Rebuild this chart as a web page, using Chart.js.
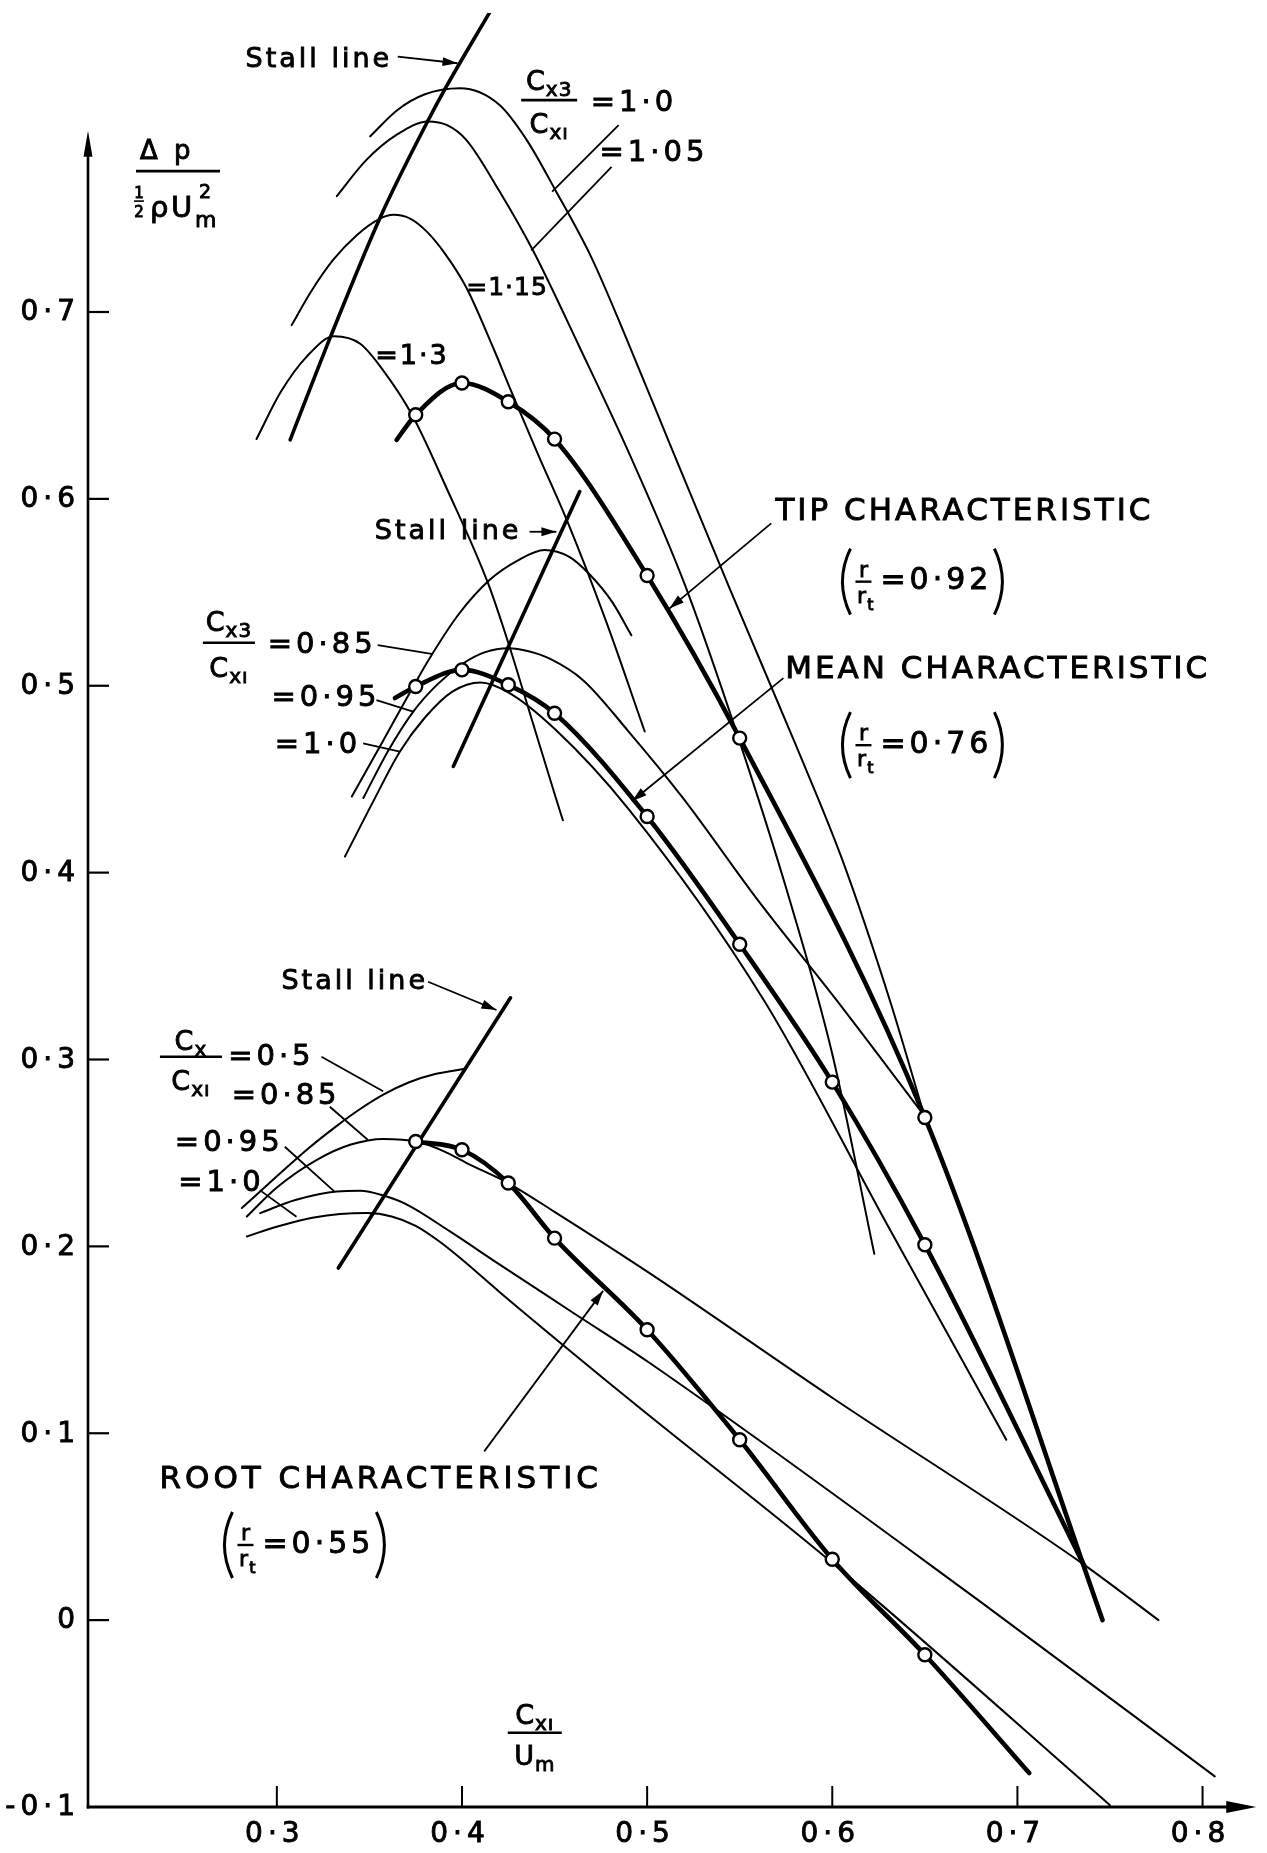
<!DOCTYPE html>
<html>
<head>
<meta charset="utf-8">
<title>Stage characteristics – tip, mean and root sections</title>
<script src="https://cdn.jsdelivr.net/npm/chart.js@4.4.1/dist/chart.umd.min.js"></script>
<style>
  html, body { margin: 0; padding: 0; background: #fff; }
  #box { width: 1267px; height: 1853px; }
  canvas { display: block; }
</style>
</head>
<body>
<div id="box"><canvas id="chart" width="1267" height="1853"></canvas></div>
<script>
// ---------- axes ----------
const xMin = 0.198, xMax = 0.83;
const yMin = -0.1, yMax = 0.86;
const xTicks = [0.3, 0.4, 0.5, 0.6, 0.7, 0.8];
const xTickLabels = ['0·3', '0·4', '0·5', '0·6', '0·7', '0·8'];
const yTicks = [-0.1, 0, 0.1, 0.2, 0.3, 0.4, 0.5, 0.6, 0.7];
const yTickLabels = ['-0·1', '0', '0·1', '0·2', '0·3', '0·4', '0·5', '0·6', '0·7'];
const yAxisTop = 0.797;
const xAxisEnd = 0.829;

// ---------- tip section (r/rt = 0.92) ----------
const tipFlow = [0.375, 0.400, 0.425, 0.450, 0.500, 0.550, 0.650];
const tipRise = [0.645, 0.662, 0.652, 0.632, 0.559, 0.472, 0.269];
const tipLineStart = [0.3647, 0.6316];
const tipLineEnd = [0.746, 0.000];
const tipStall = [[0.3072, 0.6316], [0.3287, 0.686], [0.356, 0.751], [0.3809, 0.801], [0.391, 0.8197], [0.4147, 0.8599]];
const tipRatio100 = [[0.3504, 0.794], [0.365, 0.808], [0.380, 0.8165], [0.399, 0.8197], [0.420, 0.811], [0.435, 0.792],
  [0.450, 0.766], [0.470, 0.729], [0.490, 0.683], [0.512, 0.630], [0.545, 0.551], [0.580, 0.469], [0.605, 0.408],
  [0.631, 0.332], [0.650, 0.269]];
const tipRatio105 = [[0.3324, 0.762], [0.348, 0.781], [0.365, 0.795], [0.3816, 0.802], [0.392, 0.800], [0.4024, 0.792],
  [0.420, 0.765], [0.4383, 0.733], [0.4636, 0.681], [0.490, 0.625], [0.520, 0.555], [0.550, 0.470], [0.575, 0.392],
  [0.600, 0.303], [0.6227, 0.196]];
const tipRatio115 = [[0.308, 0.693], [0.3185, 0.711], [0.3305, 0.728], [0.343, 0.741], [0.3557, 0.750], [0.363, 0.752],
  [0.372, 0.750], [0.381, 0.743], [0.391, 0.731], [0.4024, 0.713], [0.4168, 0.681], [0.426, 0.659], [0.441, 0.624],
  [0.4573, 0.587], [0.478, 0.534], [0.4987, 0.4755]];
const tipRatio130 = [[0.289, 0.632], [0.302, 0.657], [0.316, 0.676], [0.331, 0.687], [0.345, 0.683], [0.358, 0.668],
  [0.373, 0.645], [0.392, 0.605], [0.414, 0.555], [0.425, 0.523], [0.438, 0.481], [0.451, 0.439], [0.4545, 0.428]];

// ---------- mean section (r/rt = 0.76) ----------
const meanFlow = [0.375, 0.400, 0.425, 0.450, 0.500, 0.550, 0.600, 0.650];
const meanRise = [0.4996, 0.5085, 0.5005, 0.4853, 0.430, 0.3617, 0.2879, 0.2009];
const meanLineStart = [0.3638, 0.4934];
const meanLineEnd = [0.7362, 0.0289];
const meanStall = [[0.3953, 0.4568], [0.4636, 0.6039]];
const meanRatio085 = [[0.3405, 0.4407], [0.3571, 0.470], [0.3737, 0.4996], [0.3827, 0.5150], [0.398, 0.538], [0.415, 0.5567],
  [0.430, 0.567], [0.4445, 0.5727], [0.458, 0.569], [0.469, 0.5595], [0.481, 0.545], [0.4915, 0.527]];
const meanRatio095 = [[0.3467, 0.4399], [0.360, 0.465], [0.3737, 0.4862], [0.387, 0.501], [0.4007, 0.512], [0.4125, 0.518],
  [0.4249, 0.5201], [0.436, 0.5185], [0.4474, 0.5145], [0.4654, 0.503], [0.490, 0.4755], [0.5193, 0.440], [0.560, 0.385],
  [0.6021, 0.332], [0.650, 0.2695]];
const meanRatio100 = [[0.3368, 0.4086], [0.352, 0.438], [0.3665, 0.4648], [0.380, 0.483], [0.395, 0.497], [0.410, 0.5018],
  [0.425, 0.4965], [0.450, 0.477], [0.490, 0.434], [0.5629, 0.332], [0.630, 0.211], [0.694, 0.0965]];

// ---------- root section (r/rt = 0.55) ----------
const rootFlow = [0.375, 0.400, 0.425, 0.450, 0.500, 0.550, 0.600, 0.650];
const rootRise = [0.2561, 0.2517, 0.2339, 0.2044, 0.1554, 0.0965, 0.0326, -0.0185];
const rootLineEnd = [0.7064, -0.0818];
const rootStall = [[0.3332, 0.1884], [0.4262, 0.333]];
const rootRatio050 = [[0.2811, 0.2205], [0.300, 0.2375], [0.3165, 0.2520], [0.3324, 0.2645], [0.345, 0.2735], [0.3575, 0.2812],
  [0.3715, 0.2878], [0.3855, 0.2922], [0.4015, 0.2950]];
const rootRatio085 = [[0.2838, 0.216], [0.300, 0.2315], [0.3216, 0.2463], [0.340, 0.2545], [0.3575, 0.2575], [0.3755, 0.2561],
  [0.390, 0.251], [0.4025, 0.2446], [0.4249, 0.2339], [0.450, 0.2185], [0.5013, 0.1857], [0.600, 0.119], [0.7342, 0.0309],
  [0.7762, 0.000]];
const rootRatio095 = [[0.291, 0.2178], [0.310, 0.2248], [0.3324, 0.2294], [0.345, 0.2297], [0.3575, 0.2272], [0.370, 0.2225],
  [0.3935, 0.2080], [0.420, 0.1905], [0.460, 0.1645], [0.5014, 0.1376], [0.6783, 0.0111], [0.8066, -0.0836]];
const rootRatio100 = [[0.2838, 0.2053], [0.300, 0.2105], [0.320, 0.2155], [0.3485, 0.2178], [0.362, 0.2160], [0.375, 0.2110],
  [0.388, 0.2025], [0.400, 0.1930], [0.4204, 0.1755], [0.4906, 0.1179], [0.6021, 0.0289], [0.750, -0.099]];

// ---------- annotation anchors (data units) ----------
const notes = {
  yTitle: [0.2466, 0.7754],
  xTitle: [0.4393, -0.0603],
  tipStallText: [0.2831, 0.8348], tipStallArrow: [[0.3653, 0.8366], [0.3976, 0.8331]],
  tipFrac: [0.4471, 0.8134],
  tipLabel100: [0.4695, 0.8118], tipLabel105: [0.4743, 0.7851],
  tipLabel115: [0.4023, 0.7128], tipLabel130: [0.3531, 0.6759],
  tipLeader100: [[0.4846, 0.800], [0.4487, 0.7644]], tipLeader105: [[0.4808, 0.7777], [0.4374, 0.7330]],
  meanStallText: [0.3529, 0.5824], meanStallArrow: [[0.4365, 0.5824], [0.4510, 0.5824]],
  tipTitle: [0.5693, 0.5931], tipRatio: [0.6055, 0.5557], tipArrow: [[0.5670, 0.5869], [0.5120, 0.5413]],
  meanTitle: [0.5746, 0.5084], meanRatio: [0.6055, 0.4682], meanArrow: [[0.5736, 0.5041], [0.4918, 0.4382]],
  meanFrac: [0.2741, 0.5230],
  meanLabel085: [0.2951, 0.5217], meanLabel095: [0.2971, 0.4933], meanLabel100: [0.2989, 0.4682],
  meanLeader085: [[0.3545, 0.5217], [0.3844, 0.5169]], meanLeader095: [[0.3538, 0.4923], [0.3736, 0.4861]],
  meanLeader100: [[0.3466, 0.4692], [0.3664, 0.4647]],
  rootStallText: [0.3025, 0.3416], rootStallArrow: [[0.3817, 0.3416], [0.4186, 0.3265]],
  rootFrac: [0.2536, 0.3015],
  rootLabel050: [0.2737, 0.3011], rootLabel085: [0.2756, 0.2801], rootLabel095: [0.2449, 0.2551], rootLabel100: [0.2467, 0.2337],
  rootLeader050: [[0.3241, 0.3015], [0.3574, 0.2830]], rootLeader085: [[0.3286, 0.2747], [0.3492, 0.2569]],
  rootLeader095: [[0.3043, 0.2533], [0.3313, 0.2292]], rootLeader100: [[0.2908, 0.2301], [0.3106, 0.2159]],
  rootTitle: [0.2366, 0.0750], rootRatio: [0.2717, 0.0402], rootArrow: [[0.4120, 0.0903], [0.4762, 0.1762]]
};

// ---------- datasets ----------
const toXY = arr => arr.map(([x, y]) => ({ x, y }));
const zipXY = (xs, ys) => xs.map((x, i) => ({ x, y: ys[i] }));
const one = ([x, y]) => ({ x, y });

function curve(data, width, smooth = true) {
  return {
    data, borderColor: '#000', borderWidth: width, pointRadius: 0, fill: false,
    cubicInterpolationMode: smooth ? 'monotone' : 'default', tension: 0,
    borderCapStyle: 'round', borderJoinStyle: 'round', order: 2
  };
}
function markers(data) {
  return {
    data, showLine: false, pointRadius: 6.5, pointBorderWidth: 2.4,
    pointBackgroundColor: '#fff', pointBorderColor: '#000', pointStyle: 'circle', order: 0
  };
}

const tipPts = zipXY(tipFlow, tipRise);
const meanPts = zipXY(meanFlow, meanRise);
const rootPts = zipXY(rootFlow, rootRise);

const datasets = [
  markers(tipPts), markers(meanPts), markers(rootPts),
  curve([one(tipLineStart), ...tipPts, one(tipLineEnd)], 4.6),
  curve([one(meanLineStart), ...meanPts, one(meanLineEnd)], 4.6),
  curve([...rootPts, one(rootLineEnd)], 4.6),
  curve(toXY(tipStall), 3.6), curve(toXY(meanStall), 3.6, false), curve(toXY(rootStall), 3.6, false),
  curve(toXY(tipRatio100), 2), curve(toXY(tipRatio105), 2), curve(toXY(tipRatio115), 2), curve(toXY(tipRatio130), 2),
  curve(toXY(meanRatio085), 2), curve(toXY(meanRatio095), 2), curve(toXY(meanRatio100), 2),
  curve(toXY(rootRatio050), 2), curve(toXY(rootRatio085), 2), curve(toXY(rootRatio095), 2), curve(toXY(rootRatio100), 2)
];

// ---------- drawing helpers ----------
const FAMILY = '"DejaVu Sans", sans-serif';
function setFont(ctx, size, spacing) {
  ctx.font = `${size}px ${FAMILY}`;
  ctx.letterSpacing = (spacing || 0) + 'px';
}
function ink(ctx, s, x, y) {
  ctx.fillText(s, x, y);
  ctx.lineWidth = 0.9;
  ctx.strokeText(s, x, y);
}
function text(ctx, s, x, y, size, spacing, align) {
  setFont(ctx, size, spacing);
  ctx.textAlign = align || 'left';
  ctx.textBaseline = 'middle';
  ink(ctx, s, x, y);
  return ctx.measureText(s).width;
}
function seg(ctx, x1, y1, x2, y2, w) {
  ctx.lineWidth = w;
  ctx.beginPath(); ctx.moveTo(x1, y1); ctx.lineTo(x2, y2); ctx.stroke();
}
function head(ctx, x1, y1, x2, y2, len, half) {
  const a = Math.atan2(y2 - y1, x2 - x1), c = Math.cos(a), s = Math.sin(a);
  ctx.beginPath();
  ctx.moveTo(x2, y2);
  ctx.lineTo(x2 - len * c + half * s, y2 - len * s - half * c);
  ctx.lineTo(x2 - len * c - half * s, y2 - len * s + half * c);
  ctx.closePath(); ctx.fill();
}
function sym(ctx, x, base, main, sub, size, center) {
  setFont(ctx, size, 1); const wm = ctx.measureText(main).width;
  setFont(ctx, size * 0.74, 1); const ws = ctx.measureText(sub).width;
  const w = wm + ws, left = center ? x - w / 2 : x;
  ctx.textAlign = 'left'; ctx.textBaseline = 'alphabetic';
  setFont(ctx, size, 1); ink(ctx, main, left, base);
  setFont(ctx, size * 0.74, 1); ink(ctx, sub, left + wm, base + size * 0.22);
}
function frac(ctx, cx, by, num, den, halfW, size, numGap, denGap) {
  seg(ctx, cx - halfW, by, cx + halfW, by, 2.6);
  sym(ctx, cx, by - numGap, num[0], num[1], size, true);
  sym(ctx, cx, by + denGap, den[0], den[1], size, true);
}
function paren(ctx, x, cy, h, dir) {
  ctx.lineWidth = 3;
  ctx.beginPath();
  ctx.moveTo(x + dir * 8, cy - h / 2);
  ctx.quadraticCurveTo(x - dir * 8, cy, x + dir * 8, cy + h / 2);
  ctx.stroke();
}
function ratioNote(ctx, x, cy, value) {
  paren(ctx, x, cy, 66, 1);
  setFont(ctx, 22); ctx.textAlign = 'center'; ctx.textBaseline = 'alphabetic';
  ink(ctx, 'r', x + 21, cy - 5);
  seg(ctx, x + 13, cy, x + 29, cy, 2.4);
  ink(ctx, 'r', x + 19, cy + 21);
  setFont(ctx, 16); ink(ctx, 't', x + 28, cy + 28);
  const w = text(ctx, '=' + value, x + 38, cy, 30, 4);
  paren(ctx, x + 38 + w + 10, cy, 66, -1);
}

// ---------- plugin: axes, ticks and lettering ----------
const lettering = {
  id: 'lettering',
  beforeDatasetsDraw(chart) {
    const { ctx } = chart;
    const X = v => chart.scales.x.getPixelForValue(v);
    const Y = v => chart.scales.y.getPixelForValue(v);
    ctx.save();
    ctx.strokeStyle = '#000'; ctx.fillStyle = '#000';
    const x0 = X(xMin), y0 = Y(yMin);
    // vertical axis with arrow
    seg(ctx, x0, y0 + 1.5, x0, Y(yAxisTop) + 20, 2.6);
    head(ctx, x0, y0, x0, Y(yAxisTop), 26, 4.5);
    // horizontal axis with arrow
    seg(ctx, x0 - 1.3, y0, X(xAxisEnd) - 20, y0, 3);
    head(ctx, x0, y0, X(xAxisEnd), y0, 30, 6);
    // inward tick marks and tick labels
    yTicks.forEach((v, i) => {
      if (v > yMin) seg(ctx, x0, Y(v), x0 + 21, Y(v), 2.2);
      text(ctx, yTickLabels[i], x0 - 8, Y(v) + 1, 28, 5, 'right');
    });
    xTicks.forEach((v, i) => {
      seg(ctx, X(v), y0, X(v), y0 - 21, 2);
      text(ctx, xTickLabels[i], X(v) - 2, y0 + 28, 28, 5, 'center');
    });
    ctx.restore();
  },
  afterDatasetsDraw(chart) {
    const { ctx } = chart;
    const X = v => chart.scales.x.getPixelForValue(v);
    const Y = v => chart.scales.y.getPixelForValue(v);
    const P = ([a, b]) => [X(a), Y(b)];
    ctx.save();
    ctx.strokeStyle = '#000'; ctx.fillStyle = '#000';

    const leader = (pair, w) => { const [a, b] = pair.map(P); seg(ctx, a[0], a[1], b[0], b[1], w || 1.8); };
    const arrow = (pair) => {
      const [a, b] = pair.map(P);
      seg(ctx, a[0], a[1], b[0], b[1], 1.8);
      head(ctx, a[0], a[1], b[0], b[1], 15, 4.5);
    };
    const say = (s, at, size, spacing) => { const [x, y] = P(at); return text(ctx, s, x, y, size || 27, spacing == null ? 2 : spacing); };

    // y-axis quantity: Δp / (½ ρ U_m²)
    {
      const [cx, by] = P(notes.yTitle);
      seg(ctx, cx - 42, by, cx + 42, by, 2.6);
      setFont(ctx, 26, 4); ctx.textAlign = 'left'; ctx.textBaseline = 'alphabetic';
      ink(ctx, 'Δ p', cx - 38, by - 12);
      setFont(ctx, 15); ctx.textAlign = 'center';
      ink(ctx, '1', cx - 39, by + 27);
      seg(ctx, cx - 44, by + 30, cx - 34, by + 30, 1.6);
      ink(ctx, '2', cx - 39, by + 46);
      setFont(ctx, 29); ctx.textAlign = 'left';
      ink(ctx, 'ρ', cx - 28, by + 46);
      ink(ctx, 'U', cx - 7, by + 46);
      setFont(ctx, 19); ink(ctx, '2', cx + 21, by + 27);
      setFont(ctx, 22); ink(ctx, 'm', cx + 17, by + 56);
    }
    // x-axis quantity: C_x1 / U_m
    {
      const [cx, by] = P(notes.xTitle);
      frac(ctx, cx, by, ['C', 'xı'], ['U', 'm'], 27, 27, 9, 32);
    }

    // tip family
    say('Stall line', notes.tipStallText, 27, 3);
    arrow(notes.tipStallArrow);
    { const [cx, by] = P(notes.tipFrac); frac(ctx, cx, by, ['C', 'x3'], ['C', 'xı'], 28, 27, 10, 33); }
    say('=1·0', notes.tipLabel100, 29, 4);
    say('=1·05', notes.tipLabel105, 29, 4);
    say('=1·15', notes.tipLabel115, 25, 1);
    say('=1·3', notes.tipLabel130, 27, 2);
    leader(notes.tipLeader100); leader(notes.tipLeader105);

    // mean family
    say('Stall line', notes.meanStallText, 27, 3);
    arrow(notes.meanStallArrow);
    { const [cx, by] = P(notes.meanFrac); frac(ctx, cx, by, ['C', 'x3'], ['C', 'xı'], 26, 27, 12, 34); }
    say('=0·85', notes.meanLabel085, 29, 4);
    say('=0·95', notes.meanLabel095, 29, 4);
    say('=1·0', notes.meanLabel100, 29, 4);
    leader(notes.meanLeader085); leader(notes.meanLeader095); leader(notes.meanLeader100);

    // section titles
    say('TIP CHARACTERISTIC', notes.tipTitle, 31, 3);
    { const [x, y] = P(notes.tipRatio); ratioNote(ctx, x, y, '0·92'); }
    arrow(notes.tipArrow);
    say('MEAN CHARACTERISTIC', notes.meanTitle, 31, 3);
    { const [x, y] = P(notes.meanRatio); ratioNote(ctx, x, y, '0·76'); }
    arrow(notes.meanArrow);

    // root family
    say('Stall line', notes.rootStallText, 27, 3);
    arrow(notes.rootStallArrow);
    { const [cx, by] = P(notes.rootFrac); frac(ctx, cx, by, ['C', 'x'], ['C', 'xı'], 31, 27, 7, 33); }
    say('=0·5', notes.rootLabel050, 29, 4);
    say('=0·85', notes.rootLabel085, 29, 4);
    say('=0·95', notes.rootLabel095, 29, 4);
    say('=1·0', notes.rootLabel100, 29, 4);
    leader(notes.rootLeader050); leader(notes.rootLeader085); leader(notes.rootLeader095); leader(notes.rootLeader100);
    say('ROOT CHARACTERISTIC', notes.rootTitle, 31, 4);
    { const [x, y] = P(notes.rootRatio); ratioNote(ctx, x, y, '0·55'); }
    arrow(notes.rootArrow);

    ctx.restore();
  }
};

new Chart(document.getElementById('chart'), {
  type: 'line',
  data: { datasets },
  options: {
    responsive: false,
    animation: false,
    devicePixelRatio: 1,
    events: [],
    layout: { padding: { left: 88, right: 8, top: 13, bottom: 46 } },
    scales: {
      x: { type: 'linear', min: xMin, max: xMax, display: false },
      y: { type: 'linear', min: yMin, max: yMax, display: false }
    },
    plugins: { legend: { display: false }, tooltip: { enabled: false } }
  },
  plugins: [lettering]
});
</script>
</body>
</html>
